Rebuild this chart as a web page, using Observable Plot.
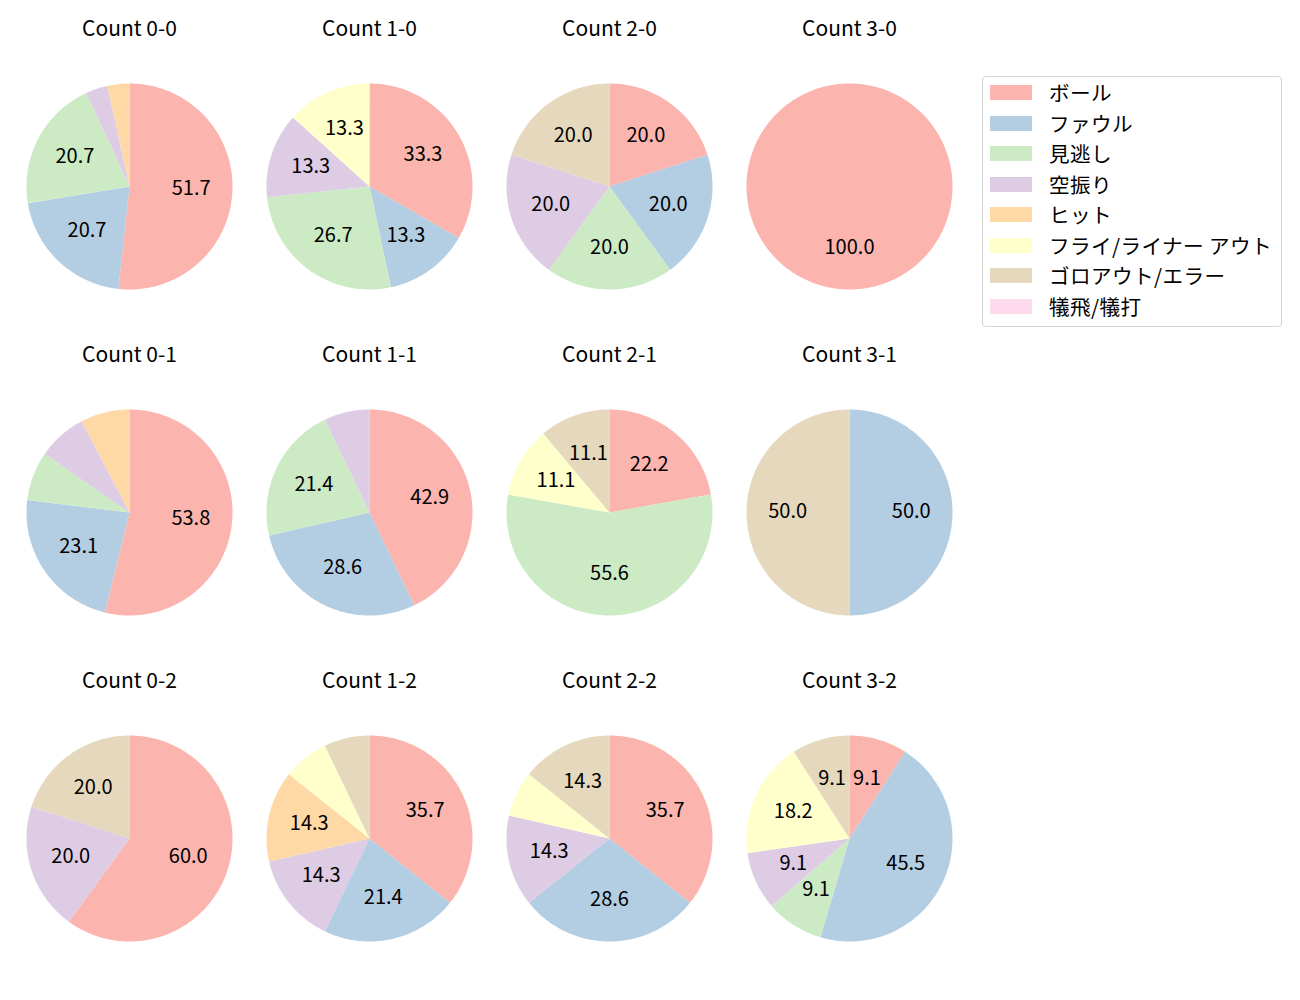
<!DOCTYPE html>
<html><head><meta charset="utf-8">
<script src="https://cdn.jsdelivr.net/npm/d3@7"></script>
<script src="https://cdn.jsdelivr.net/npm/@observablehq/plot@0.6"></script>
<style>
body{margin:0;background:#fff;font-family:"Noto Sans CJK JP",sans-serif;}
#wrap{position:relative;width:1300px;height:1000px;}
#legend{position:absolute;left:982px;top:76px;width:300px;height:251px;border:1px solid #d4d4d4;border-radius:4px;box-sizing:border-box;background:#fff;}
.sw{position:absolute;left:7px;width:42px;height:15px;}
.lb{position:absolute;left:66px;font-size:20.6px;color:#000;white-space:nowrap;line-height:20px;letter-spacing:0.4px;}
</style></head>
<body><div id="wrap"></div>
<script>
// Pitch result categories (legend order)
const categories = ["ボール","ファウル","見逃し","空振り","ヒット","フライ/ライナー アウト","ゴロアウト/エラー","犠飛/犠打"];
const colors = ["#fbb4ae","#b3cde3","#ccebc5","#decbe4","#fed9a6","#ffffcc","#e5d8bd","#fddaec"];
// Panels: ball-strike count, balls = column, strikes = row
const panelTitles = ["Count 0-0","Count 1-0","Count 2-0","Count 3-0",
                     "Count 0-1","Count 1-1","Count 2-1","Count 3-1",
                     "Count 0-2","Count 1-2","Count 2-2","Count 3-2"];
const panelBalls   = [0,1,2,3, 0,1,2,3, 0,1,2,3];
const panelStrikes = [0,0,0,0, 1,1,1,1, 2,2,2,2];
// Pitch counts per category for each panel (same order as categories)
const panelValues = [
  [15,6,6,1,1,0,0,0],
  [5,2,4,2,0,2,0,0],
  [1,1,1,1,0,0,1,0],
  [1,0,0,0,0,0,0,0],
  [7,3,1,1,1,0,0,0],
  [6,4,3,1,0,0,0,0],
  [2,0,5,0,0,1,1,0],
  [0,1,0,0,0,0,1,0],
  [3,0,0,1,0,0,1,0],
  [5,3,0,2,2,1,1,0],
  [5,4,0,2,0,1,2,0],
  [1,5,1,1,0,2,1,0]
];

const wedges = [];
const labels = [];
const panels = [];
panelTitles.forEach((title, i) => {
  const col = panelBalls[i], row = panelStrikes[i];
  panels.push({col, row, title});
  const vals = panelValues[i];
  const total = d3.sum(vals);
  const arcs = d3.pie().sort(null).value(d => d)(vals);
  arcs.forEach((a, j) => {
    if (a.value <= 0) return;
    const key = i + "-" + j;
    const n = Math.max(2, Math.ceil((a.endAngle - a.startAngle) / (Math.PI / 180)));
    wedges.push({col, row, key, cat: categories[j], x: 0, y: 0});
    for (let k = 0; k <= n; k++) {
      const t = a.startAngle + (a.endAngle - a.startAngle) * k / n;
      wedges.push({col, row, key, cat: categories[j], x: Math.sin(t), y: Math.cos(t)});
    }
    wedges.push({col, row, key, cat: categories[j], x: 0, y: 0});
    const pct = a.value / total * 100;
    if (pct >= 8) {
      const m = (a.startAngle + a.endAngle) / 2;
      labels.push({col, row, x: 0.6 * Math.sin(m), y: 0.6 * Math.cos(m), text: pct.toFixed(1)});
    }
  });
});

const chart = Plot.plot({
  width: 1300, height: 1000,
  marginLeft: 26, marginRight: 348, marginTop: 82, marginBottom: 59,
  facet: {marginTop: 0, marginRight: 0, marginBottom: 0, marginLeft: 0},
  style: {fontFamily: "'Noto Sans CJK JP', sans-serif", background: "#fff", overflow: "visible"},
  fx: {domain: [0,1,2,3], paddingInner: 34/240, paddingOuter: 0, axis: null, label: null},
  fy: {domain: [0,1,2], paddingInner: 120.5/326.5, paddingOuter: 0, axis: null, label: null},
  x: {domain: [-1, 1], axis: null},
  y: {domain: [-1, 1], axis: null},
  color: {domain: categories, range: colors},
  marks: [
    Plot.line(wedges, {x: "x", y: "y", z: "key", fill: "cat", stroke: "none", fx: "col", fy: "row"}),
    Plot.text(labels, {x: "x", y: "y", text: "text", fx: "col", fy: "row", fontSize: 20, dy: -1, fill: "#000"}),
    Plot.text(panels, {fx: "col", fy: "row", text: "title", frameAnchor: "top", dy: -62, fontSize: 21, fill: "#000", letterSpacing: 0.3})
  ]
});
const wrap = document.getElementById("wrap");
wrap.appendChild(chart);

const legend = document.createElement("div");
legend.id = "legend";
categories.forEach((c, j) => {
  const sw = document.createElement("div");
  sw.className = "sw";
  sw.style.top = (8 + j * 30.5) + "px";
  sw.style.background = colors[j];
  legend.appendChild(sw);
  const lb = document.createElement("div");
  lb.className = "lb";
  lb.style.top = (5 + j * 30.5) + "px";
  lb.textContent = c;
  legend.appendChild(lb);
});
wrap.appendChild(legend);
</script>
</body></html>
